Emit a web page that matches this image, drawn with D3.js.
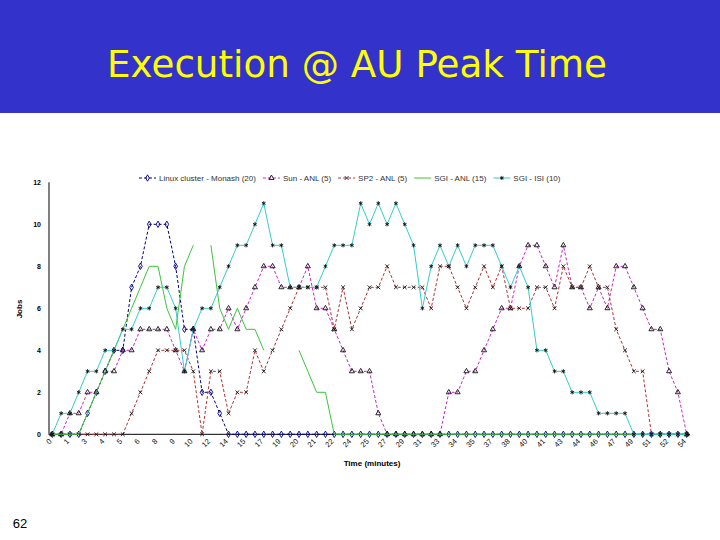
<!DOCTYPE html>
<html><head><meta charset="utf-8">
<script src="https://cdn.jsdelivr.net/npm/d3@7"></script>
<style>body{margin:0;background:#fff;} svg{display:block;}</style>
</head><body><svg id="c" width="720" height="540"></svg>
<script>
// Tick labels (minutes), shown at every other sample
const tickLabels = [0,1,3,4,5,6,8,9,10,12,14,15,17,19,20,21,22,24,25,27,29,31,33,34,35,37,38,40,41,43,44,46,47,49,51,52,54];

const seriesNames = ["Linux cluster - Monash (20)","Sun - ANL (5)","SP2 - ANL (5)","SGI - ANL (15)","SGI - ISI (10)"];

const linux = [0,0,0,0,1,2,3,4,4,7,
  8,10,10,10,8,5,5,2,2,1,
  0,0,0,0,0,0,0,0,0,0,
  0,0,0,0,0,0,0,0,0,0,
  0,0,0,0,0,0,0,0,0,0,
  0,0,0,0,0,0,0,0,0,0,
  0,0,0,0,0,0,0,0,0,0,
  0,0,0];
const sun = [0,0,1,1,2,2,3,3,4,4,
  5,5,5,5,4,3,5,4,5,5,
  6,5,6,7,8,8,7,7,7,8,
  6,6,5,4,3,3,3,1,0,0,
  0,0,0,0,0,2,2,3,3,4,
  5,6,6,8,9,9,8,7,9,7,
  7,6,7,6,8,8,7,6,5,5,
  3,2,0];
const sp2 = [0,0,0,0,0,0,0,0,0,1,
  2,3,4,4,4,4,3,0,3,3,
  1,2,2,4,3,4,5,6,7,7,
  7,7,5,7,5,6,7,7,8,7,
  7,7,7,6,8,8,7,6,7,8,
  7,8,6,6,6,7,7,6,8,7,
  7,8,7,7,5,4,3,3,0,0,
  0,0,0];
const sgiAnl = [0,0,0,0,1,2,3,4,5,6,
  7,8,8,6,5,8,9,null,9,6,
  5,6,5,5,4,null,null,null,4,3,
  2,2,0,0,0,0,0,0,0,0,
  0,0,0,0,0,0,0,0,0,0,
  0,0,0,0,0,0,0,0,0,0,
  0,0,0,0,0,0,0,0,0,0,
  0,0,0];
const sgiIsi = [0,1,1,2,3,3,4,4,5,5,
  6,6,7,7,6,3,5,6,6,7,
  8,9,9,10,11,9,9,7,7,7,
  7,8,9,9,9,11,10,11,10,11,
  10,9,6,8,9,8,9,8,9,9,
  9,8,7,8,7,4,4,3,3,2,
  2,2,1,1,1,1,0,0,0,0,
  0,0,0];

const yTicks = [0,2,4,6,8,10,12];

const series = [
  {name: seriesNames[0], values: linux,  color: "#000080", dash: "3,2", symbol: d3.symbolDiamond, mColor: "#000080", mFill: "none", size: 12},
  {name: seriesNames[1], values: sun,    color: "#CC22CC", dash: "3,2", symbol: d3.symbolTriangle, mColor: "#111", mFill: "none", size: 11},
  {name: seriesNames[2], values: sp2,    color: "#B03030", dash: "3,2", symbol: d3.symbolTimes, mColor: "#111", mFill: "none", size: 11},
  {name: seriesNames[3], values: sgiAnl, color: "#3CC43C", dash: null, symbol: null},
  {name: seriesNames[4], values: sgiIsi, color: "#33CCCC", dash: null, symbol: d3.symbolAsterisk, mColor: "#111", mFill: "none", size: 12}
];

const svg = d3.select("#c");
svg.append("rect").attr("width",720).attr("height",540).attr("fill","#fff");
svg.append("rect").attr("width",720).attr("height",113).attr("fill","#3333CC");

const title = svg.append("text").attr("x",357).attr("y",77).attr("text-anchor","middle")
  .attr("fill","#FFFF00").style("font-family","'DejaVu Sans', sans-serif").style("font-size","34px")
  .text("Execution @ AU Peak Time");
const tw = title.node().getComputedTextLength();
title.style("font-size", (34*500/tw).toFixed(2)+"px");

svg.append("text").attr("x",20).attr("y",528).attr("text-anchor","middle")
  .style("font-family","'Liberation Sans', Arial, sans-serif").style("font-size","13px").attr("fill","#000").text("62");

const x = d3.scalePoint().domain(d3.range(linux.length)).range([52.3, 686.7]);
const y = d3.scaleLinear().domain([0,12]).range([434.3, 182.3]);

const font = "'Liberation Sans', Arial, sans-serif";

// axes
svg.append("line").attr("x1",49).attr("x2",49).attr("y1",y(12)).attr("y2",y(0)+0.5).attr("stroke","#000").attr("stroke-width",1);
svg.append("line").attr("x1",49).attr("x2",690).attr("y1",y(0)).attr("y2",y(0)).attr("stroke","#000").attr("stroke-width",1);

svg.append("g").selectAll("text").data(yTicks).join("text")
  .attr("x",41).attr("y",d=>y(d)).attr("dy","0.35em").attr("text-anchor","end")
  .style("font-family",font).style("font-size","7px").style("font-weight","bold").attr("fill","#000")
  .text(d=>d);

svg.append("g").selectAll("text").data(tickLabels).join("text")
  .attr("transform",(d,k)=>`translate(${x(k*2)-2},${440}) rotate(-45)`)
  .attr("dy","0.35em").attr("text-anchor","end")
  .style("font-family",font).style("font-size","7.5px").attr("fill","#111")
  .text(d=>d);

svg.append("text").attr("transform","translate(22,309) rotate(-90)").attr("text-anchor","middle")
  .style("font-family",font).style("font-size","8px").style("font-weight","bold").text("Jobs");
svg.append("text").attr("x",372).attr("y",466).attr("text-anchor","middle")
  .style("font-family",font).style("font-size","8px").style("font-weight","bold").text("Time (minutes)");

// series
series.forEach(s=>{
  const g = svg.append("g");
  g.append("path").datum(s.values).attr("d", d3.line().defined(d=>d!=null).x((d,i)=>x(i)).y(d=>y(d)))
    .attr("fill","none").attr("stroke",s.color).attr("stroke-width",1)
    .attr("stroke-dasharray", s.dash);
  if (s.symbol) {
    g.selectAll("path.m").data(s.values.map((v,i)=>({v,i})).filter(d=>d.v!=null)).join("path")
      .attr("class","m")
      .attr("transform",d=>`translate(${x(d.i)},${y(d.v)})`)
      .attr("d", d3.symbol().type(s.symbol).size(s.size))
      .attr("fill", s.mFill).attr("stroke", s.mColor).attr("stroke-width",0.9);
  }
});

// legend
const lg = svg.append("g");
let lx = 139;
const ly = 178;
series.forEach(s=>{
  lg.append("line").attr("x1",lx).attr("x2",lx+17).attr("y1",ly).attr("y2",ly)
    .attr("stroke",s.color).attr("stroke-width",1).attr("stroke-dasharray", s.dash);
  if (s.symbol) {
    lg.append("path").attr("transform",`translate(${lx+8.5},${ly})`)
      .attr("d", d3.symbol().type(s.symbol).size(s.size))
      .attr("fill", s.mFill).attr("stroke", s.mColor).attr("stroke-width",0.9);
  }
  const t = lg.append("text").attr("x",lx+20).attr("y",ly).attr("dy","0.35em")
    .style("font-family",font).style("font-size","8px").attr("fill","#333").text(s.name);
  lx += 20 + t.node().getComputedTextLength() + 7;
});
</script>
</body></html>
